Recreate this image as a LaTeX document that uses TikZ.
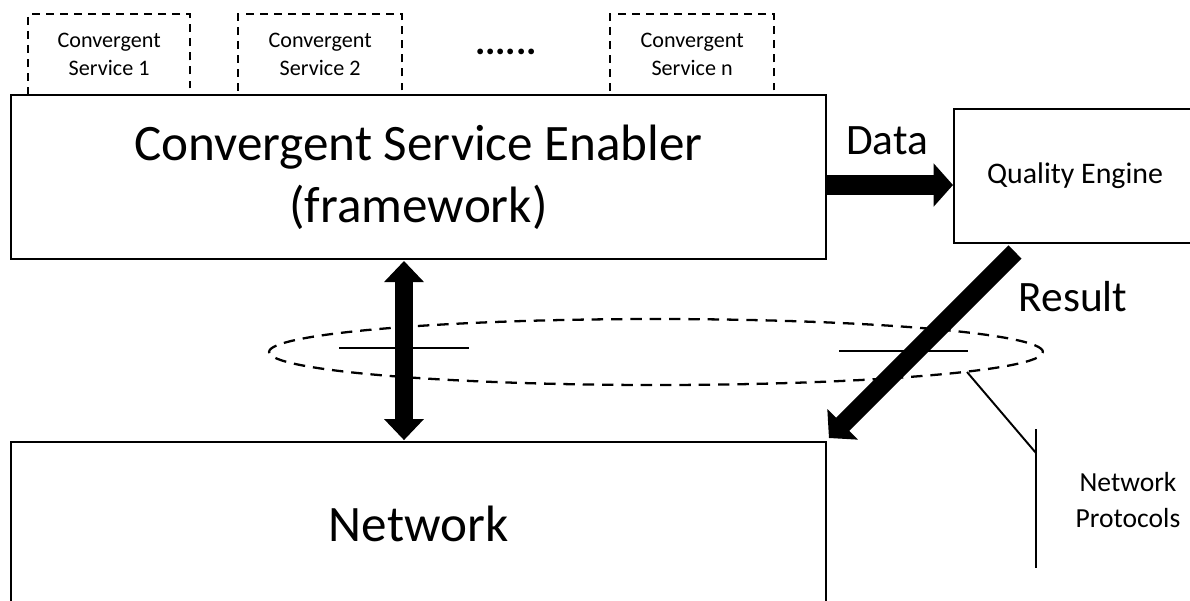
\documentclass[tikz,border=0pt]{standalone}
\usepackage{fontspec}
\setmainfont{Carlito}
\usetikzlibrary{arrows.meta}
\begin{document}
\begin{tikzpicture}[x=0.02cm,y=-0.02cm,
  box/.style={draw=black, line width=1.2pt, inner sep=0pt, align=center},
  svcbox/.style={draw=black, line width=1.3pt, dash pattern=on 4.5pt off 3.5pt, inner sep=0pt, align=center,
     minimum height=1.62cm, anchor=north west, font=\fontsize{12.6}{15.9}\selectfont},
  bigtext/.style={font=\fontsize{29.1}{35.1}\selectfont},
  lbl/.style={font=\fontsize{24.7}{29}\selectfont, inner sep=0pt},
  fat/.style={line width=11pt, -{Triangle[length=11pt, width=24pt]}},
  fatboth/.style={line width=10.5pt, {Triangle[length=12pt, width=22pt]}-{Triangle[length=12pt, width=22pt]}},
  thin/.style={line width=1.1pt},
  ell/.style={line width=1.3pt, dash pattern=on 6.5pt off 4.5pt}]
\useasboundingbox (0,0) rectangle (1190,600);
\clip (0,0) rectangle (1190,600);
\fill[white] (0,0) rectangle (1190,600);

% convergent services
\node[svcbox, minimum width=3.24cm] (s1) at (27,13) {Convergent\\Service 1};
\node[svcbox, minimum width=3.28cm] (s2) at (237,13) {Convergent\\Service 2};
\node[svcbox, minimum width=3.28cm] (sn) at (609,13) {Convergent\\Service n};
\node[font=\fontsize{22}{26}\bfseries\selectfont, inner sep=0pt] (dots) at (506,52) {......};

% main boxes
\node[box, bigtext, anchor=north west, minimum width=16.3cm, minimum height=3.28cm, fill=white] (cse) at (10,94)
  {Convergent Service Enabler\\(framework)};
\node[box, bigtext, anchor=north west, minimum width=16.3cm, minimum height=3.28cm] (net) at (10,441) {Network};
\node[box, anchor=north west, minimum width=4.84cm, minimum height=2.68cm, font=\fontsize{17}{20}\selectfont] (qe) at (953,108) {Quality Engine};

% arrows
\coordinate (dataS) at (cse.east |- 0,185);
\coordinate (dataE) at (qe.west |- 0,185);
\draw[fat] (dataS) -- (dataE);
\node[lbl] (data) at (887,141) {Data};

\coordinate (vS) at (cse.south -| 404,0);
\coordinate (vE) at (net.north -| 404,0);
\draw[fatboth] ([yshift=-0.5pt]vS) -- ([yshift=0.5pt]vE);

\coordinate (rS) at (1015,252);
\coordinate (rE) at ([shift={(2,-3)}]net.north east);
\draw[fat, line width=10.5pt] (rS) -- (rE);
\node[lbl] (result) at (1073,297) {Result};

% network protocols ellipse
\draw[ell] (656,352) ellipse [x radius=7.74cm, y radius=0.66cm];
\draw[thin] (339,348) -- (469,348);
\draw[thin] (839,351) -- (968,351);
\coordinate (b1) at (967,372);
\coordinate (b2) at (1036,453);
\coordinate (v1) at (1036,429);
\coordinate (v2) at (1036,568);
\draw[thin] (b1) -- (b2);
\draw[thin] (v1) -- (v2);
\node[font=\fontsize{15.7}{20.4}\selectfont, align=center, inner sep=0pt] (np) at (1128,500) {Network\\Protocols};
\end{tikzpicture}
\end{document}
